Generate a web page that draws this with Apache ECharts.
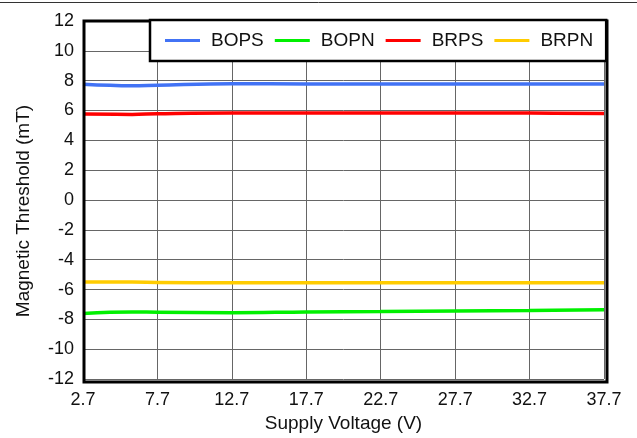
<!DOCTYPE html>
<html>
<head>
<meta charset="utf-8">
<script src="https://cdn.jsdelivr.net/npm/echarts@6/dist/echarts.min.js"></script>
<style>html,body{margin:0;padding:0;background:#fff;}#c{width:637px;height:438px;}</style>
</head>
<body>
<div id="c"></div>
<script>
var voltage = [2.7, 6, 7.7, 12.7, 17.7, 22.7, 27.7, 32.7, 37.7];
var bops = [7.76, 7.66, 7.7, 7.8, 7.78, 7.78, 7.77, 7.77, 7.77];
var bopn = [-7.6, -7.5, -7.52, -7.55, -7.5, -7.47, -7.43, -7.4, -7.36];
var brps = [5.76, 5.74, 5.78, 5.83, 5.83, 5.83, 5.83, 5.83, 5.8];
var brpn = [-5.5, -5.5, -5.52, -5.55, -5.55, -5.55, -5.55, -5.55, -5.55];
var xTicks = [2.7, 7.7, 12.7, 17.7, 22.7, 27.7, 32.7, 37.7];
var seriesNames = ['BOPS', 'BOPN', 'BRPS', 'BRPN'];
var colors = ['#4273F5', '#00F000', '#FF0000', '#FFCC00'];

function pairs(vals) { return voltage.map(function (v, i) { return [v, vals[i]]; }); }
var allVals = [bops, bopn, brps, brpn];

var chart = echarts.init(document.getElementById('c'), null, { renderer: 'canvas' });
var font = 'Liberation Sans, Arial, Helvetica, sans-serif';
chart.setOption({
  animation: false,
  textStyle: { fontFamily: font },
  grid: { left: 83, top: 21, right: 33, bottom: 56, containLabel: false },
  legend: {
    left: 150, top: 20,
    padding: [11, 13, 11, 15],
    itemGap: 11,
    itemWidth: 35, itemHeight: 3,
    backgroundColor: '#fff', borderColor: '#000', borderWidth: 2.5,
    textStyle: { fontSize: 19, color: '#111', fontFamily: font, padding: [0, 0, 0, 6] },
    data: seriesNames.map(function (n) { return { name: n, icon: 'rect' }; })
  },
  xAxis: {
    type: 'value', min: 2.7, max: 37.7, interval: 5,
    name: 'Supply Voltage (V)', nameLocation: 'middle', nameGap: 32,
    nameTextStyle: { fontSize: 19, color: '#111', fontFamily: font },
    axisLine: { show: false },
    axisTick: { show: false },
    axisLabel: { fontSize: 18, color: '#111', margin: 12, fontFamily: font,
      customValues: xTicks,
      formatter: function (v) { return v.toFixed(1); } },
    splitLine: { show: true, lineStyle: { color: '#666', width: 1 } }
  },
  yAxis: {
    type: 'value', min: -12, max: 12, interval: 2,
    name: 'Magnetic Threshold (mT)', nameLocation: 'middle', nameGap: 50,
    nameTextStyle: { fontSize: 19, color: '#111', fontFamily: font, padding: [0, 22, 0, 0] },
    axisLine: { show: false },
    axisTick: { show: false },
    axisLabel: { fontSize: 18, color: '#111', margin: 9, fontFamily: font },
    splitLine: { show: true, lineStyle: { color: '#666', width: 1 } }
  },
  graphic: [
    { type: 'line', shape: { x1: 0, y1: 2.5, x2: 637, y2: 2.5 }, style: { stroke: '#333', lineWidth: 1 }, z: 10 },
    { type: 'rect', shape: { x: 84, y: 21, width: 523, height: 361 }, style: { fill: 'none', stroke: '#000', lineWidth: 3 }, z: 3 }
  ],
  series: seriesNames.map(function (n, i) {
    return {
      name: n, type: 'line', data: pairs(allVals[i]), smooth: 0.4,
      showSymbol: false, symbol: 'none',
      lineStyle: { color: colors[i], width: 3.5 }, itemStyle: { color: colors[i] }, z: 2
    };
  })
});
</script>
</body>
</html>
